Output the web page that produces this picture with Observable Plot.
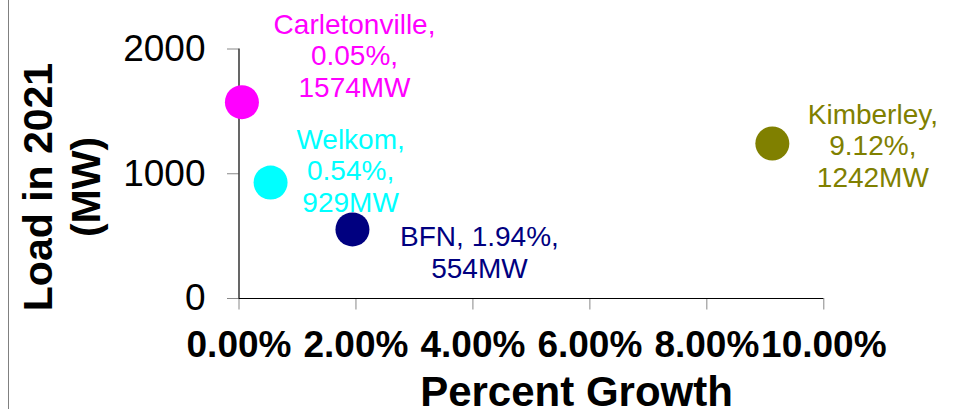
<!DOCTYPE html>
<html>
<head>
<meta charset="utf-8">
<script src="https://cdn.jsdelivr.net/npm/d3@7"></script>
<script src="https://cdn.jsdelivr.net/npm/@observablehq/plot@0.6"></script>
<style>
  html, body { margin: 0; padding: 0; background: #fff; }
  #wrap { position: relative; width: 955px; height: 409px; overflow: hidden; }
  #wrap .edge { position: absolute; left: 8px; top: 0; width: 1px; height: 409px; background: #808080; }
  #wrap svg { display: block; }
</style>
</head>
<body>
<div id="wrap"><div class="edge"></div></div>
<script>
// Substations: growth rate and projected 2021 load
const stations = ["Carletonville", "Welkom", "BFN", "Kimberley"];
const growthPct = [0.05, 0.54, 1.94, 9.12];
const loadMW = [1574, 929, 554, 1242];
const stationColors = ["#ff00ff", "#00ffff", "#000080", "#808000"];

// Axis ticks and titles
const xTicks = [0, 0.02, 0.04, 0.06, 0.08, 0.10];
const yTicks = [0, 1000, 2000];
const xTitle = "Percent Growth";
const yTitle = "Load in 2021\n(MW)";

const data = stations.map((name, i) => ({
  name,
  growth: growthPct[i] / 100,
  pct: growthPct[i],
  load: loadMW[i]
}));

// Where each data label sits relative to its dot
const labelPlacement = {
  Carletonville: {dx: 112.6, dy: -46.8, join: "\n"},
  Welkom:        {dx: 80,    dy: -12.4, join: "\n"},
  BFN:           {dx: 127,   dy: 22.3,  join: " "},
  Kimberley:     {dx: 100.5, dy: 1.6,   join: "\n"}
};

const labelText = d =>
  `${d.name},${labelPlacement[d.name].join}${d.pct.toFixed(2)}%,\n${d.load}MW`;

const font = "'Liberation Sans', Arial, Helvetica, sans-serif";

const chart = Plot.plot({
  width: 955,
  height: 409,
  marginLeft: 238.5,
  marginRight: 131.7,
  marginTop: 48.5,
  marginBottom: 111,
  style: {fontFamily: font, background: "transparent", overflow: "visible"},
  x: {domain: [0, 0.10]},
  y: {domain: [0, 2000]},
  color: {domain: stations, range: stationColors},
  marks: [
    Plot.axisY({
      ticks: yTicks,
      tickFormat: d3.format("d"),
      tickSize: 11.5,
      tickPadding: 22,
      fontSize: 37,
      stroke: "#888888",
      fill: "black",
      label: null
    }),
    Plot.axisX({
      ticks: xTicks,
      tickFormat: d3.format(".2%"),
      tickSize: 11.5,
      tickPadding: 21,
      fontSize: 37,
      fontWeight: "bold",
      stroke: "#888888",
      fill: "black",
      label: null
    }),
    Plot.ruleX([0], {y1: 0, y2: 2000, stroke: "black", strokeWidth: 1.2}),
    Plot.ruleY([0], {x1: 0, x2: 0.10, stroke: "black", strokeWidth: 1.2}),
    Plot.dot(data, {x: "growth", y: "load", r: 17, fill: "name"}),
    ...stations.map(name =>
      Plot.text(data.filter(d => d.name === name), {
        x: "growth",
        y: "load",
        text: labelText,
        fill: "name",
        fontSize: 28,
        lineHeight: 1.13,
        textAnchor: "middle",
        lineAnchor: "middle",
        dx: labelPlacement[name].dx,
        dy: labelPlacement[name].dy
      })
    ),
    Plot.text([xTitle], {
      frameAnchor: "bottom",
      text: d => d,
      lineAnchor: "bottom",
      textAnchor: "middle",
      fontSize: 42,
      fontWeight: "bold",
      fill: "black",
      dx: 45.1,
      dy: 107
    }),
    Plot.text([yTitle], {
      frameAnchor: "left",
      text: d => d,
      rotate: -90,
      lineAnchor: "middle",
      textAnchor: "middle",
      fontSize: 41,
      fontWeight: "bold",
      lineHeight: 1.17,
      fill: "black",
      dx: -177.9,
      dy: 13.25
    })
  ]
});

document.getElementById("wrap").appendChild(chart);
</script>
</body>
</html>
